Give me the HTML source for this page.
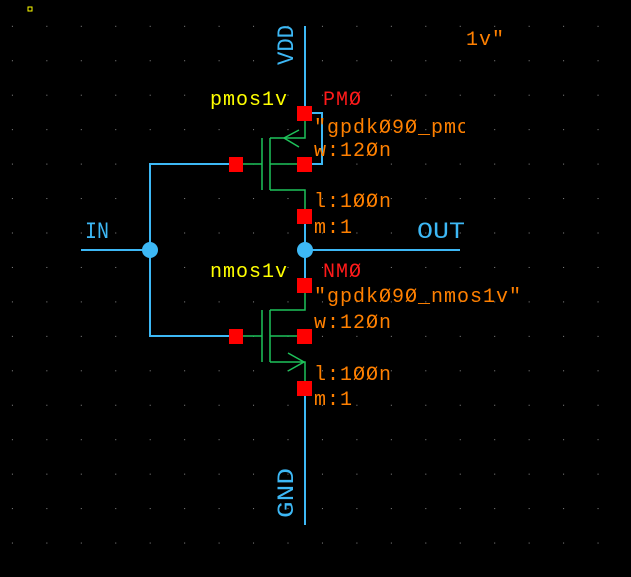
<!DOCTYPE html>
<html><head><meta charset="utf-8"><style>
html,body{margin:0;padding:0;background:#000;width:631px;height:577px;overflow:hidden}
svg{display:block}
text{font-family:"Liberation Mono","DejaVu Sans Mono",monospace}
</style></head><body>
<svg width="631" height="577" viewBox="0 0 631 577" xmlns="http://www.w3.org/2000/svg">
<defs>
<pattern id="g" x="11.9" y="25.8" width="34.45" height="34.45" patternUnits="userSpaceOnUse">
<rect x="0" y="0" width="1" height="1" fill="#8a8a8a"/>
</pattern>
</defs>
<rect width="631" height="577" fill="#000"/>
<rect width="631" height="577" fill="url(#g)"/>
<rect x="28" y="7" width="4" height="4" fill="none" stroke="#ffff00" stroke-width="1"/>
<g stroke="#3db8f5" stroke-width="2" fill="none">
<line x1="305" y1="26" x2="305" y2="107"/>
<polyline points="311,113 322,113 322,164 311,164"/>
<line x1="305" y1="222" x2="305" y2="280"/>
<line x1="305" y1="393" x2="305" y2="525"/>
<line x1="305" y1="250" x2="460" y2="250"/>
<line x1="81" y1="250" x2="150" y2="250"/>
<polyline points="230,164 150,164 150,336 230,336"/>
</g>
<g stroke="#1ec25a" stroke-width="1.5" fill="none">
<line x1="262" y1="138" x2="262" y2="190"/>
<line x1="270" y1="138" x2="270" y2="190"/>
<line x1="242" y1="164" x2="262" y2="164"/>
<line x1="270" y1="164" x2="300" y2="164"/>
<polyline points="305,118 305,138 270,138"/>
<polyline points="270,190 305,190 305,210"/>
<polyline points="299,130 284,138 299,147"/>
<line x1="262" y1="310" x2="262" y2="362"/>
<line x1="270" y1="310" x2="270" y2="362"/>
<line x1="242" y1="336" x2="262" y2="336"/>
<line x1="270" y1="336" x2="300" y2="336"/>
<polyline points="305,290 305,310 270,310"/>
<polyline points="270,362 305,362 305,382"/>
<polyline points="288,353 304,362 288,371"/>
</g>
<g fill="#ff0000">
<rect x="297" y="106" width="15" height="15"/>
<rect x="297" y="157" width="15" height="15"/>
<rect x="297" y="209" width="15" height="15"/>
<rect x="229" y="157" width="14" height="15"/>
<rect x="297" y="278" width="15" height="15"/>
<rect x="297" y="329" width="15" height="15"/>
<rect x="297" y="381" width="15" height="15"/>
<rect x="229" y="329" width="14" height="15"/>
</g>
<circle cx="305" cy="250" r="8" fill="#3db8f5"/>
<circle cx="150" cy="250" r="8" fill="#3db8f5"/>
<g font-size="20" letter-spacing="1">
<text x="210" y="105" fill="#ffff00">pmos1v</text>
<text x="323" y="105" fill="#ff1a1a">PMØ</text>
<svg x="0" y="0" width="465" height="577" overflow="hidden">
<text x="314" y="133" fill="#ff8000">"gpdkØ9Ø_pmos1v"</text>
</svg>
<text x="314" y="156" fill="#ff8000">w:12Øn</text>
<text x="314" y="207" fill="#ff8000">l:1ØØn</text>
<text x="314" y="233" fill="#ff8000">m:1</text>
<text x="210" y="277" fill="#ffff00">nmos1v</text>
<text x="323" y="277" fill="#ff1a1a">NMØ</text>
<text x="314" y="302" fill="#ff8000">"gpdkØ9Ø_nmos1v"</text>
<text x="314" y="328" fill="#ff8000">w:12Øn</text>
<text x="314" y="380" fill="#ff8000">l:1ØØn</text>
<text x="314" y="405" fill="#ff8000">m:1</text>
<text x="466" y="45" fill="#ff8000">1v"</text>
</g>
<g font-size="23">
<text x="417" y="238" fill="#3db8f5" textLength="48" lengthAdjust="spacingAndGlyphs">OUT</text>
<text x="85" y="238" fill="#3db8f5" textLength="24" lengthAdjust="spacingAndGlyphs">IN</text>
<text transform="translate(293,65) rotate(-90)" fill="#3db8f5" textLength="40" lengthAdjust="spacingAndGlyphs">VDD</text>
<text transform="translate(293,518) rotate(-90)" fill="#3db8f5" textLength="50" lengthAdjust="spacingAndGlyphs">GND</text>
</g>
</svg>
</body></html>
